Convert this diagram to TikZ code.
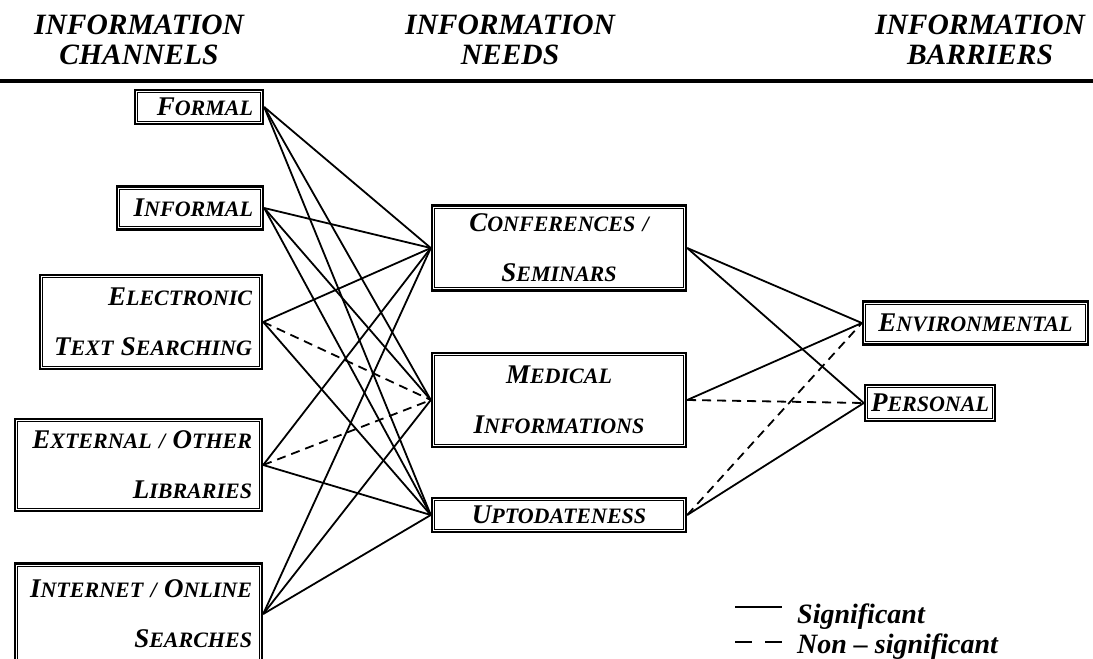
\documentclass[tikz,border=0pt]{standalone}
\usepackage{fontspec}
\setmainfont{Liberation Serif}
\newcommand\Sc[2]{{\fontsize{27}{27}\selectfont #1}{\fontsize{22}{22}\selectfont #2}}
\begin{document}
\begin{tikzpicture}[x=1pt,y=-1pt,
  box/.style={draw, line width=2.4pt, inner xsep=10pt, inner ysep=0pt,
    font=\bfseries\itshape\fontsize{22}{50}\selectfont},
  inline/.style={line width=0.8pt},
  con/.style={line width=1.8pt},
  ns/.style={con, dash pattern=on 9pt off 6pt},
  head/.style={font=\bfseries\itshape\fontsize{29.5}{30}\selectfont, align=center, inner sep=0pt},
  leg/.style={font=\bfseries\itshape\fontsize{28}{28}\selectfont, anchor=base west, inner sep=0pt}]
\clip (0,0) rectangle (1093,659);
\fill[white] (0,0) rectangle (1093,659);
% headers
\node[head] (hch) at (139,40) {INFORMATION\\CHANNELS};
\node[head] (hne) at (510,40) {INFORMATION\\NEEDS};
\node[head] (hba) at (980,40) {INFORMATION\\BARRIERS};
\coordinate (hl) at (0,81); \coordinate (hr) at (1093,81);
\draw[line width=3.2pt] (hl) -- (hr);
% left column
\node[box, text width=108pt, minimum height=34pt, align=right] (formal) at (199,107) {\Sc{F}{ORMAL}};
\node[box, text width=126pt, minimum height=43pt, align=right] (informal) at (190,208) {\Sc{I}{NFORMAL}};
\node[box, text width=202pt, minimum height=94pt, align=right] (electronic) at (151,322) {\Sc{E}{LECTRONIC}\\\Sc{T}{EXT} \Sc{S}{EARCHING}};
\node[box, text width=227pt, minimum height=92pt, align=right] (external) at (138.5,465) {\Sc{E}{XTERNAL / }\Sc{O}{THER}\\\Sc{L}{IBRARIES}};
\node[box, text width=227pt, minimum height=101pt, align=right] (internet) at (138.5,614) {\Sc{I}{NTERNET / }\Sc{O}{NLINE}\\\Sc{S}{EARCHES}};
% middle column
\node[box, text width=234pt, minimum height=85pt, align=center] (conf) at (559,248) {\Sc{C}{ONFERENCES /}\\\Sc{S}{EMINARS}};
\node[box, text width=234pt, minimum height=94pt, align=center] (medical) at (559,400) {\Sc{M}{EDICAL}\\\Sc{I}{NFORMATIONS}};
\node[box, text width=234pt, minimum height=34pt, align=center] (upto) at (559,515) {\Sc{U}{PTODATENESS}};
% right column
\node[box, text width=205pt, minimum height=43pt, align=center] (env) at (975.5,323) {\Sc{E}{NVIRONMENTAL}};
\node[box, inner xsep=6pt, text width=118pt, minimum height=36pt, align=center] (personal) at (930,403) {\Sc{P}{ERSONAL}};
% inner thin borders
\foreach \n in {formal,informal,electronic,external,internet,conf,medical,upto,env,personal}
  \draw[inline] ([shift={(4pt,-4pt)}]\n.north west) rectangle ([shift={(-4pt,4pt)}]\n.south east);
% connectors: channels -> needs
\draw[con] (formal.east) -- (conf.west);
\draw[con] (formal.east) -- (medical.west);
\draw[con] (formal.east) -- (upto.west);
\draw[con] (informal.east) -- (conf.west);
\draw[con] (informal.east) -- (medical.west);
\draw[con] (informal.east) -- (upto.west);
\draw[con] (electronic.east) -- (conf.west);
\draw[ns]  (electronic.east) -- (medical.west);
\draw[con] (electronic.east) -- (upto.west);
\draw[con] (external.east) -- (conf.west);
\draw[ns]  (external.east) -- (medical.west);
\draw[con] (external.east) -- (upto.west);
\draw[con] (internet.east) -- (conf.west);
\draw[con] (internet.east) -- (medical.west);
\draw[con] (internet.east) -- (upto.west);
% needs -> barriers
\draw[con] (conf.east) -- (env.west);
\draw[con] (conf.east) -- (personal.west);
\draw[con] (medical.east) -- (env.west);
\draw[ns]  (medical.east) -- (personal.west);
\draw[ns]  (upto.east) -- (env.west);
\draw[con] (upto.east) -- (personal.west);
% legend
\coordinate (s1) at (735,607); \coordinate (s2) at (782,607);
\draw[line width=2.6pt] (s1) -- (s2);
\coordinate (d1) at (735,642); \coordinate (d2) at (782,642);
\draw[line width=2.6pt, dash pattern=on 17pt off 13pt] (d1) -- (d2);
\node[leg] (sig) at (797,623) {Significant};
\node[leg] (nsig) at (797,653) {Non -- significant};
\end{tikzpicture}
\end{document}
